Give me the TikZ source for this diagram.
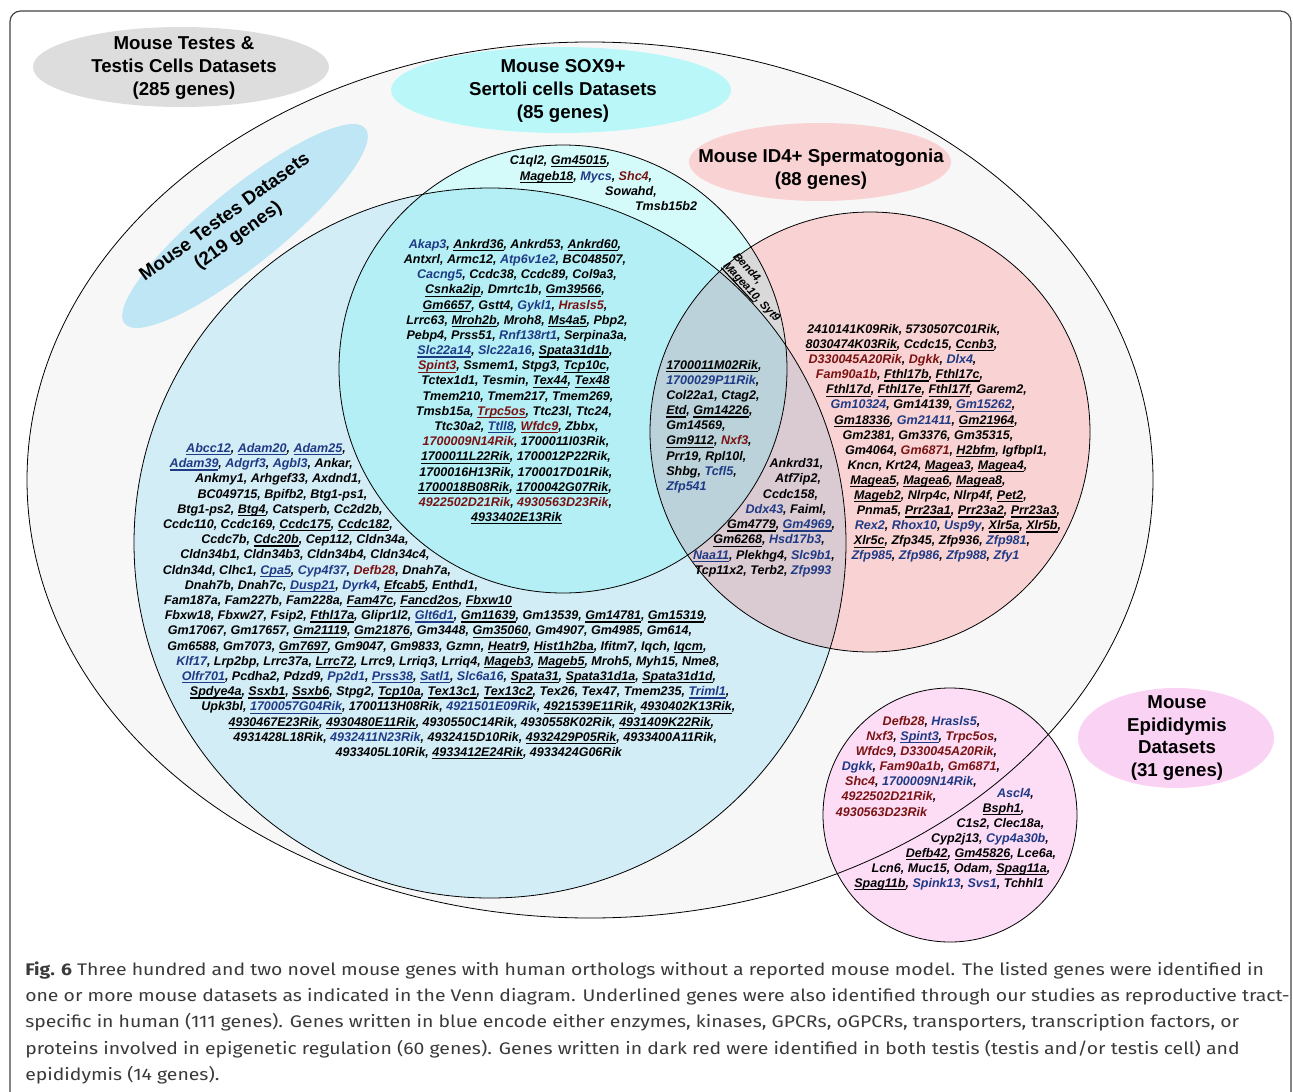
\documentclass[tikz,border=0pt]{standalone}
\usepackage{fontspec}
\usepackage{graphicx}
\setmainfont{Liberation Sans}
\newfontfamily\capfont{Fira Sans}[FakeStretch=1.155]
\usetikzlibrary{shapes.geometric}
\definecolor{outerfill}{HTML}{F7F7F7}
\definecolor{graylabel}{HTML}{DDDDDD}
\definecolor{bluefill}{HTML}{D3EDF7}
\definecolor{bluelabel}{HTML}{BEE6F4}
\definecolor{sox9only}{HTML}{D5FAFA}
\definecolor{sox9blue}{HTML}{B4EFF6}
\definecolor{sox9label}{HTML}{BAF7F9}
\definecolor{id4fill}{HTML}{F9D3D3}
\definecolor{lav}{HTML}{DACAD2}
\definecolor{grayblue}{HTML}{BBD2DA}
\definecolor{sidgray}{HTML}{D9D9D9}
\definecolor{epifill}{HTML}{FCDDF5}
\definecolor{epilabel}{HTML}{FAD3F4}
\definecolor{gblue}{HTML}{1F3A85}
\definecolor{gred}{HTML}{7A1212}
\definecolor{capcol}{HTML}{3A3A3A}
\definecolor{framecol}{HTML}{444444}
\newcounter{ln}
\newcommand\gu[1]{\setbox0=\hbox{#1}\rlap{\vrule height -1.3pt depth 2.2pt width \wd0}\box0}
\newcommand\gb[1]{\textcolor{gblue}{#1}}
\newcommand\gr[1]{\textcolor{gred}{#1}}
\newcommand\gl[3]{\stepcounter{ln}\node[gene] (L\arabic{ln}) at (#1,#2) {#3};}
\newcommand\gll[3]{\stepcounter{ln}\node[gene,anchor=base west] (L\arabic{ln}) at (#1,#2) {#3};}
\begin{document}
\begin{tikzpicture}[x=0.75pt,y=-0.75pt,
  outl/.style={draw=black,line width=0.6pt},
  gene/.style={inner sep=0pt,anchor=base,yshift=-3.3pt,font=\fontsize{9.4}{11.4}\selectfont\bfseries\itshape},
  genesm/.style={inner sep=0pt,anchor=center,align=left,font=\fontsize{8.4}{9.9}\selectfont\bfseries\itshape},
  head/.style={inner sep=0pt,align=center,font=\fontsize{14}{17}\selectfont\bfseries},
  captext/.style={inner sep=0pt,anchor=base west,text=capcol,font=\capfont\fontsize{12.6}{15}\selectfont}]
\useasboundingbox (0,0) rectangle (1293,1092);
\clip (0,0) rectangle (1293,1092);
\fill[white] (0,0) rectangle (1293,1092);
\draw[framecol,line width=0.9pt,rounded corners=8pt] (10,11) rectangle (1291,1120);
% regions
\fill[outerfill] (590,480) ellipse [x radius=563, y radius=438];
\fill[epifill] (950,815) circle [radius=127];
\fill[bluefill] (490,543) ellipse [x radius=356, y radius=355];
\fill[sox9only] (563,369) circle [radius=224];
\fill[id4fill] (870,432) circle [radius=220];
\begin{scope}
  \clip (563,369) circle [radius=224];
  \fill[sidgray] (870,432) circle [radius=220];
\end{scope}
\begin{scope}
  \clip (490,543) ellipse [x radius=356, y radius=355];
  \fill[sox9blue] (563,369) circle [radius=224];
  \fill[lav] (870,432) circle [radius=220];
  \clip (563,369) circle [radius=224];
  \fill[grayblue] (870,432) circle [radius=220];
\end{scope}
% label ellipses
\fill[graylabel] (181,67) ellipse [x radius=148, y radius=40];
\fill[sox9label] (561,90) ellipse [x radius=170, y radius=43];
\fill[id4fill] (820,162) ellipse [x radius=131, y radius=39];
\fill[epilabel] (1176,738) ellipse [x radius=98, y radius=50];
\fill[bluelabel,rotate around={39:(245,226)}] (245,226) ellipse [x radius=155, y radius=38];
% outlines
\draw[outl] (590,480) ellipse [x radius=563, y radius=438];
\draw[outl] (490,543) ellipse [x radius=356, y radius=355];
\draw[outl] (563,369) circle [radius=224];
\draw[outl] (870,432) circle [radius=220];
\draw[outl] (950,815) circle [radius=127];
% headings
\node[head] (h1) at (184,68) {Mouse Testes \&\\Testis Cells Datasets\\(285 genes)};
\node[head] (h2) at (563,91) {Mouse SOX9+\\Sertoli cells Datasets\\(85 genes)};
\node[head] (h3) at (821,169.5) {Mouse ID4+ Spermatogonia\\(88 genes)};
\node[head] (h4) at (1177,738) {Mouse\\Epididymis\\Datasets\\(31 genes)};
\node[head,rotate=36] (h5) at (232,227) {Mouse Testes Datasets\\(219 genes)};
% SOX9 only
\gl{560}{160}{C1ql2, \gu{Gm45015},}
\gl{586}{176}{\gu{Mageb18}, \gb{Mycs}, \gr{Shc4},}
\gl{631}{191}{Sowahd,}
\gl{666}{206}{Tmsb15b2}
% SOX9 and testes
\gl{515}{244}{\gb{Akap3}, \gu{Ankrd36}, Ankrd53, \gu{Ankrd60},}
\gl{515}{259.2}{Antxrl, Armc12, \gb{Atp6v1e2}, BC048507,}
\gl{517}{274.3}{\gb{Cacng5}, Ccdc38, Ccdc89, Col9a3,}
\gl{515}{289.5}{\gu{Csnka2ip}, Dmrtc1b, \gu{Gm39566},}
\gl{515}{304.7}{\gu{Gm6657}, Gstt4, \gb{Gykl1}, \gr{Hrasls5},}
\gl{517}{319.9}{Lrrc63, \gu{Mroh2b}, Mroh8, \gu{Ms4a5}, Pbp2,}
\gl{517}{335}{Pebp4, Prss51, \gb{Rnf138rt1}, Serpina3a,}
\gl{515}{350.2}{\gb{\gu{Slc22a14}}, \gb{Slc22a16}, \gu{Spata31d1b},}
\gl{514}{365.4}{\gr{\gu{Spint3}}, Ssmem1, Stpg3, \gu{Tcp10c},}
\gl{515.5}{380.5}{Tctex1d1, Tesmin, \gu{Tex44}, \gu{Tex48}}
\gl{518}{395.7}{Tmem210, Tmem217, Tmem269,}
\gl{514}{410.9}{Tmsb15a, \gr{\gu{Trpc5os}}, Ttc23l, Ttc24,}
\gl{516.5}{426}{Ttc30a2, \gb{\gu{Ttll8}}, \gr{\gu{Wfdc9}}, Zbbx,}
\gl{516}{441.2}{\gr{1700009N14Rik}, 1700011I03Rik,}
\gl{516}{456.4}{\gu{1700011L22Rik}, 1700012P22Rik,}
\gl{516}{471.6}{1700016H13Rik, 1700017D01Rik,}
\gl{515}{486.7}{\gu{1700018B08Rik}, \gu{1700042G07Rik},}
\gl{515.5}{501.9}{\gr{4922502D21Rik}, \gr{4930563D23Rik},}
\gl{516.5}{517}{\gu{4933402E13Rik}}
% testes only
\gl{266}{448}{\gb{\gu{Abcc12}}, \gb{\gu{Adam20}}, \gb{\gu{Adam25}},}
\gl{261.3}{463.2}{\gb{\gu{Adam39}}, \gb{Adgrf3}, \gb{Agbl3}, Ankar,}
\gl{278.3}{478.4}{Ankmy1, Arhgef33, Axdnd1,}
\gl{282.5}{493.6}{BC049715, Bpifb2, Btg1-ps1,}
\gl{280}{508.8}{Btg1-ps2, \gu{Btg4}, Catsperb, Cc2d2b,}
\gl{278}{524}{Ccdc110, Ccdc169, \gu{Ccdc175}, \gu{Ccdc182},}
\gl{305}{539.2}{Ccdc7b, \gu{Cdc20b}, Cep112, Cldn34a,}
\gl{305}{554.4}{Cldn34b1, Cldn34b3, Cldn34b4, Cldn34c4,}
\gl{307}{569.6}{Cldn34d, Clhc1, \gb{\gu{Cpa5}}, \gb{Cyp4f37}, \gr{Defb28}, Dnah7a,}
\gl{331.5}{584.8}{Dnah7b, Dnah7c, \gb{\gu{Dusp21}}, \gb{Dyrk4}, \gu{Efcab5}, Enthd1,}
\gl{338}{600}{Fam187a, Fam227b, Fam228a, \gu{Fam47c}, \gu{Fancd2os}, \gu{Fbxw10}}
\gl{436}{615.2}{Fbxw18, Fbxw27, Fsip2, \gu{Fthl17a}, Glipr1l2, \gb{\gu{Glt6d1}}, \gu{Gm11639}, Gm13539, \gu{Gm14781}, \gu{Gm15319},}
\gl{430}{630.4}{Gm17067, Gm17657, \gu{Gm21119}, \gu{Gm21876}, Gm3448, \gu{Gm35060}, Gm4907, Gm4985, Gm614,}
\gl{437}{645.6}{Gm6588, Gm7073, \gu{Gm7697}, Gm9047, Gm9833, Gzmn, \gu{Heatr9}, \gu{Hist1h2ba}, Ifitm7, Iqch, \gu{Iqcm},}
\gl{448}{660.8}{\gb{Klf17}, Lrp2bp, Lrrc37a, \gu{Lrrc72}, Lrrc9, Lrriq3, Lrriq4, \gu{Mageb3}, \gu{Mageb5}, Mroh5, Myh15, Nme8,}
\gl{449}{676}{\gb{\gu{Olfr701}}, Pcdha2, Pdzd9, \gb{Pp2d1}, \gb{\gu{Prss38}}, \gb{\gu{Satl1}}, \gb{Slc6a16}, \gu{Spata31}, \gu{Spata31d1a}, \gu{Spata31d1d},}
\gl{459.7}{691.2}{\gu{Spdye4a}, \gu{Ssxb1}, \gu{Ssxb6}, Stpg2, \gu{Tcp10a}, \gu{Tex13c1}, \gu{Tex13c2}, Tex26, Tex47, Tmem235, \gb{\gu{Triml1}},}
\gl{468.3}{706.4}{Upk3bl, \gb{\gu{1700057G04Rik}}, 1700113H08Rik, \gb{4921501E09Rik}, \gu{4921539E11Rik}, \gu{4930402K13Rik},}
\gl{471.3}{721.6}{\gu{4930467E23Rik}, \gu{4930480E11Rik}, 4930550C14Rik, 4930558K02Rik, \gu{4931409K22Rik},}
\gl{475.3}{736.8}{4931428L18Rik, \gb{4932411N23Rik}, 4932415D10Rik, \gu{4932429P05Rik}, 4933400A11Rik,}
\gl{478.8}{752}{4933405L10Rik, \gu{4933412E24Rik}, 4933424G06Rik}
% SOX9, testes and ID4
\gll{666}{365}{\gu{1700011M02Rik},}
\gll{666}{380.1}{\gb{1700029P11Rik},}
\gll{666}{395.2}{Col22a1, Ctag2,}
\gll{666}{410.3}{\gu{Etd}, \gu{Gm14226},}
\gll{666}{425.4}{Gm14569,}
\gll{666}{440.5}{\gu{Gm9112}, \gr{Nxf3},}
\gll{666}{455.6}{Prr19, Rpl10l,}
\gll{666}{470.7}{Shbg, \gb{Tcfl5},}
\gll{666}{485.8}{\gb{Zfp541}}
% SOX9 and ID4
\node[genesm,rotate=-47] (b1) at (756,288) {Bend4,\\\gu{Magea10}, Syt9};
% testes and ID4
\gl{796.5}{463.3}{Ankrd31,}
\gl{798}{478.5}{Atf7ip2,}
\gl{790.5}{493.7}{Ccdc158,}
\gl{786}{509}{\gb{Ddx43}, Faiml,}
\gl{781}{524.2}{\gu{Gm4779}, \gb{\gu{Gm4969}},}
\gl{769}{539.4}{\gu{Gm6268}, \gb{Hsd17b3},}
\gl{764}{554.6}{\gb{\gu{Naa11}}, Plekhg4, \gb{Slc9b1},}
\gl{763}{569.8}{Tcp11x2, Terb2, \gb{Zfp993}}
% ID4 only
\gl{904}{329}{2410141K09Rik, 5730507C01Rik,}
\gl{901.5}{344.1}{\gu{8030474K03Rik}, Ccdc15, \gu{Ccnb3},}
\gl{892.5}{359.2}{\gr{D330045A20Rik}, \gr{Dgkk}, \gb{Dlx4},}
\gl{899.5}{374.3}{\gr{Fam90a1b}, \gu{Fthl17b}, \gu{Fthl17c},}
\gl{926.5}{389.4}{\gu{Fthl17d}, \gu{Fthl17e}, \gu{Fthl17f}, Garem2,}
\gl{923}{404.5}{\gb{Gm10324}, Gm14139, \gb{\gu{Gm15262}},}
\gl{926}{419.6}{\gu{Gm18336}, \gb{Gm21411}, \gu{Gm21964},}
\gl{928}{434.7}{Gm2381, Gm3376, Gm35315,}
\gl{946}{449.8}{Gm4064, \gr{Gm6871}, \gu{H2bfm}, Igfbpl1,}
\gl{937.5}{464.9}{Kncn, Krt24, \gu{Magea3}, \gu{Magea4},}
\gl{928}{480}{\gu{Magea5}, \gu{Magea6}, \gu{Magea8},}
\gl{940.5}{495.1}{\gu{Mageb2}, Nlrp4c, Nlrp4f, \gu{Pet2},}
\gl{958.5}{510.2}{Pnma5, \gu{Prr23a1}, \gu{Prr23a2}, \gu{Prr23a3},}
\gl{958}{525.3}{\gb{Rex2}, \gb{Rhox10}, \gb{Usp9y}, \gu{Xlr5a}, \gu{Xlr5b},}
\gl{942}{540.4}{\gu{Xlr5c}, Zfp345, Zfp936, \gb{Zfp981},}
\gl{935.5}{555.5}{\gb{Zfp985}, \gb{Zfp986}, \gb{Zfp988}, \gb{Zfy1}}
% epididymis and testis
\gl{931.5}{720.7}{\gr{Defb28}, \gb{Hrasls5},}
\gl{932}{735.9}{\gr{Nxf3}, \gb{\gu{Spint3}}, \gr{Trpc5os},}
\gl{926.5}{751}{\gr{Wfdc9}, \gr{D330045A20Rik},}
\gl{921}{766.2}{\gb{Dgkk}, \gr{Fam90a1b}, \gr{Gm6871},}
\gl{911}{781.3}{\gr{Shc4}, \gb{1700009N14Rik},}
\gl{889}{796.5}{\gr{4922502D21Rik},}
\gl{881.5}{811.7}{\gr{4930563D23Rik}}
% epididymis only
\gl{1015.5}{793}{\gb{Ascl4},}
\gl{1003.5}{808}{\gu{Bsph1},}
\gl{1000.5}{823}{C1s2, Clec18a,}
\gl{990}{838}{Cyp2j13, \gb{Cyp4a30b},}
\gl{981}{853}{\gu{Defb42}, \gu{Gm45826}, Lce6a,}
\gl{961}{868}{Lcn6, Muc15, Odam, \gu{Spag11a},}
\gl{949}{883}{\gu{Spag11b}, \gb{Spink13}, \gb{Svs1}, Tchhl1}
% caption
\node[captext] (c1) at (25,975) {\textbf{Fig. 6} Three hundred and two novel mouse genes with human orthologs without a reported mouse model. The listed genes were identified in};
\node[captext] (c2) at (25,1001.5) {one or more mouse datasets as indicated in the Venn diagram. Underlined genes were also identified through our studies as reproductive tract-};
\node[captext] (c3) at (25,1027.8) {specific in human (111 genes). Genes written in blue encode either enzymes, kinases, GPCRs, oGPCRs, transporters, transcription factors, or};
\node[captext] (c4) at (25,1054.1) {proteins involved in epigenetic regulation (60 genes). Genes written in dark red were identified in both testis (testis and/or testis cell) and};
\node[captext] (c5) at (25,1080.4) {epididymis (14 genes).};
\end{tikzpicture}
\end{document}
